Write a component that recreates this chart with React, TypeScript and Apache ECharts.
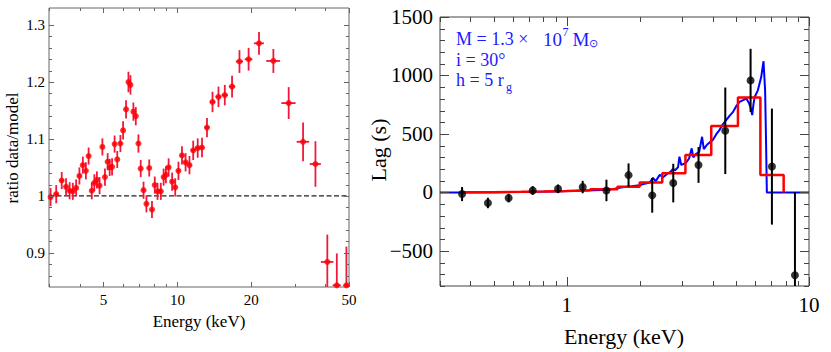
import React, { useEffect, useRef } from 'react';
import * as echarts from 'echarts';

// ---------- Left panel: ratio data/model ----------
const LEFT_E = [3.045, 3.21, 3.38, 3.52, 3.64, 3.75, 3.87, 3.99, 4.12, 4.24,
  4.35, 4.48, 4.59, 4.70, 4.82, 4.95, 5.07, 5.20, 5.30, 5.42,
  5.55, 5.69, 5.86, 6.01, 6.18, 6.32, 6.44, 6.62, 6.77, 6.94,
  7.09, 7.28, 7.48, 7.68, 7.88, 8.09, 8.30, 8.56, 8.79, 8.98,
  9.21, 9.52, 9.80, 10.1, 10.44, 10.8, 11.2, 11.6, 12.1, 12.6,
  13.2, 13.9, 14.7, 15.6, 16.7, 17.9, 19.5, 21.5, 24.6, 28.4,
  32.5, 36.5, 40.8, 44.6, 48.8];
const LEFT_RATIO = [0.998, 1.003, 1.027, 1.016, 1.009, 1.008, 1.014, 1.035, 1.054, 1.044,
  1.070, 1.009, 1.023, 1.028, 1.018, 1.086, 1.033, 1.060, 1.050, 1.051,
  1.091, 1.064, 1.092, 1.115, 1.152, 1.200, 1.195, 1.148, 1.140, 1.092,
  1.048, 1.010, 0.986, 1.049, 0.976, 1.019, 1.008, 1.008, 1.033, 1.037,
  1.050, 1.025, 1.015, 1.044, 1.071, 1.059, 1.054, 1.080, 1.084, 1.085,
  1.120, 1.165, 1.174, 1.177, 1.192, 1.236, 1.240, 1.268, 1.237, 1.163,
  1.095, 1.056, 0.884, 0.843, 0.843];
const LEFT_ERR = [0.016, 0.016, 0.015, 0.015, 0.015, 0.015, 0.015, 0.015, 0.015, 0.015,
  0.015, 0.015, 0.015, 0.015, 0.015, 0.015, 0.015, 0.015, 0.015, 0.015,
  0.015, 0.015, 0.015, 0.016, 0.016, 0.018, 0.017, 0.016, 0.016, 0.016,
  0.015, 0.015, 0.015, 0.015, 0.015, 0.015, 0.015, 0.015, 0.015, 0.015,
  0.016, 0.016, 0.016, 0.016, 0.016, 0.016, 0.016, 0.017, 0.017, 0.017,
  0.017, 0.018, 0.018, 0.018, 0.019, 0.020, 0.020, 0.020, 0.021, 0.028,
  0.034, 0.040, 0.048, 0.056, 0.068];
const LEFT_DE = [0.07, 0.07, 0.07, 0.06, 0.06, 0.06, 0.06, 0.06, 0.06, 0.06,
  0.06, 0.06, 0.06, 0.06, 0.06, 0.06, 0.06, 0.06, 0.05, 0.06,
  0.07, 0.07, 0.08, 0.08, 0.08, 0.07, 0.06, 0.08, 0.08, 0.08,
  0.08, 0.1, 0.1, 0.1, 0.1, 0.1, 0.1, 0.12, 0.12, 0.1,
  0.15, 0.15, 0.15, 0.17, 0.2, 0.2, 0.2, 0.25, 0.25, 0.25,
  0.3, 0.35, 0.4, 0.45, 0.5, 0.6, 0.7, 1.0, 1.6, 1.9,
  1.9, 1.9, 2.4, 1.7, 1.4];
const LEFT_X_MAJOR = [5, 10, 20, 50];
const LEFT_X_LABELS = ['5', '10', '20', '50'];
const LEFT_X_MINOR = [3, 4, 6, 7, 8, 9, 30, 40];
const LEFT_Y_MAJOR = [0.9, 1.0, 1.1, 1.2, 1.3];
const LEFT_Y_LABELS = ['0.9', '1', '1.1', '1.2', '1.3'];
const LEFT_Y_MINOR = [0.86, 0.88, 0.92, 0.94, 0.96, 0.98, 1.02, 1.04, 1.06, 1.08,
  1.12, 1.14, 1.16, 1.18, 1.22, 1.24, 1.26, 1.28];
const LEFT_REF = 1;

// ---------- Right panel: lag-energy ----------
const LAG_E = [0.37, 0.473, 0.576, 0.724, 0.921, 1.164, 1.459, 1.80, 2.254, 2.753, 3.50, 4.513, 5.74, 7.03, 8.75];
const LAG = [-14, -90, -48, 17, 31, 46, 17, 148, -25, 80, 235, 527, 958, 221, -708];
const LAG_ERR = [60, 45, 37, 37, 37, 53, 92, 100, 148, 165, 153, 370, 270, 496, 710];

const BLUE_E = [0.3, 0.37, 0.5, 0.7, 0.9, 1.1, 1.3, 1.5, 1.7, 1.85,
  2.0, 2.1, 2.2, 2.27, 2.33, 2.42, 2.5, 2.6, 2.68, 2.74,
  2.8, 2.88, 2.92, 2.97, 3.05, 3.11, 3.2, 3.28, 3.33, 3.42,
  3.52, 3.62, 3.68, 3.8, 3.9, 4.01, 4.15, 4.27, 4.4, 4.55,
  4.7, 4.86, 5.0, 5.17, 5.35, 5.52, 5.65, 5.75, 5.83, 5.9,
  5.97, 6.15, 6.35, 6.49, 6.59, 6.65, 6.70, 10];
const BLUE_LAG = [0, 0, 2, 5, 9, 14, 19, 24, 45, 52,
  62, 75, 85, 125, 95, 150, 130, 160, 175, 200,
  190, 215, 306, 235, 245, 255, 290, 377, 300, 330,
  345, 476, 370, 410, 430, 448, 500, 533, 580, 618,
  655, 689, 735, 774, 790, 802, 765, 720, 661, 755,
  816, 873, 986, 1122, 873, 420, 0, 0];

const RED_EDGES = [0.37, 0.5, 0.65, 0.8, 1.0, 1.25, 1.62, 2.0, 2.48, 3.09, 3.95, 5.09, 6.3, 7.86];
const RED_LAG = [2, 5, 8, 12, 18, 28, 48, 85, 165, 320, 567, 811, 150];

const RIGHT_X_MAJOR = [1, 10];
const RIGHT_X_LABELS = ['1', '10'];
const RIGHT_X_MINOR = [0.3, 0.4, 0.5, 0.6, 0.7, 0.8, 0.9, 2, 3, 4, 5, 6, 7, 8, 9];
const RIGHT_Y_MAJOR = [-500, 0, 500, 1000, 1500];
const RIGHT_Y_LABELS = ['\u2212500', '0', '500', '1000', '1500'];
const RIGHT_Y_MINOR = [-800, -700, -600, -400, -300, -200, -100, 100, 200, 300, 400,
  600, 700, 800, 900, 1100, 1200, 1300, 1400];

const FONT = '"Liberation Serif", "Times New Roman", Times, serif';

function xTicks(g: number, majors: number[], minors: number[], labels: string[],
  yMin: number, yMax: number, majLen: number, minLen: number, color: string,
  fontSize: number, labelOffset: number) {
  const ticks = [...majors.map((v) => ({ v, major: true })), ...minors.map((v) => ({ v, major: false }))];
  return {
    type: 'custom', xAxisIndex: g, yAxisIndex: g, clip: false, silent: true, z: 10,
    encode: { x: 0, y: 1 },
    data: ticks.map((t) => [t.v, yMin]),
    renderItem: (params: any, api: any) => {
      const t = ticks[params.dataIndex];
      const v = api.value(0);
      const b = api.coord([v, yMin]);
      const top = api.coord([v, yMax]);
      const L = t.major ? majLen : minLen;
      const x = Math.round(b[0]) + 0.5;
      const children: any[] = [
        { type: 'line', shape: { x1: x, y1: b[1], x2: x, y2: b[1] - L }, style: { stroke: color, lineWidth: 1 } },
        { type: 'line', shape: { x1: x, y1: top[1], x2: x, y2: top[1] + L }, style: { stroke: color, lineWidth: 1 } },
      ];
      if (t.major) {
        const idx = majors.indexOf(t.v);
        children.push({
          type: 'text',
          style: {
            text: labels[idx], x: b[0], y: b[1] + labelOffset, fill: '#000',
            font: `${fontSize}px ${FONT}`, align: 'center', verticalAlign: 'middle',
            textAlign: 'center', textVerticalAlign: 'middle',
          },
        });
      }
      return { type: 'group', children };
    },
  };
}

function yTicks(g: number, majors: number[], minors: number[], labels: string[],
  xMin: number, xMax: number, majLen: number, minLen: number, color: string,
  fontSize: number, labelOffset: number) {
  const ticks = [...majors.map((v) => ({ v, major: true })), ...minors.map((v) => ({ v, major: false }))];
  return {
    type: 'custom', xAxisIndex: g, yAxisIndex: g, clip: false, silent: true, z: 10,
    encode: { x: 0, y: 1 },
    data: ticks.map((t) => [xMin, t.v]),
    renderItem: (params: any, api: any) => {
      const t = ticks[params.dataIndex];
      const v = api.value(1);
      const l = api.coord([xMin, v]);
      const r = api.coord([xMax, v]);
      const L = t.major ? majLen : minLen;
      const y = Math.round(l[1]) + 0.5;
      const children: any[] = [
        { type: 'line', shape: { x1: l[0], y1: y, x2: l[0] + L, y2: y }, style: { stroke: color, lineWidth: 1 } },
        { type: 'line', shape: { x1: r[0], y1: y, x2: r[0] - L, y2: y }, style: { stroke: color, lineWidth: 1 } },
      ];
      if (t.major) {
        const idx = majors.indexOf(t.v);
        children.push({
          type: 'text',
          style: {
            text: labels[idx], x: l[0] - labelOffset, y: l[1], fill: '#000',
            font: `${fontSize}px ${FONT}`, align: 'right', verticalAlign: 'middle',
            textAlign: 'right', textVerticalAlign: 'middle',
          },
        });
      }
      return { type: 'group', children };
    },
  };
}

function txt(text: string, x: number, y: number, size: number, fill: string, align = 'left', rotation = 0) {
  return {
    type: 'text', x, y, rotation, silent: true,
    style: {
      text, fill, font: `${size}px ${FONT}`,
      align, verticalAlign: 'middle', textAlign: align, textVerticalAlign: 'middle',
    },
  };
}

export default function App() {
  const ref = useRef<HTMLDivElement>(null);
  useEffect(() => {
    if (!ref.current) return;
    const chart = echarts.init(ref.current, null, { renderer: 'svg' });

    const L_XMIN = 3, L_XMAX = 50, L_YMIN = 0.84, L_YMAX = 1.33;
    const R_XMIN = 0.3, R_XMAX = 10, R_YMIN = -800, R_YMAX = 1500;

    const redPts: number[][] = [];
    for (let i = 0; i < RED_LAG.length; i++) {
      redPts.push([RED_EDGES[i], RED_LAG[i]]);
      redPts.push([RED_EDGES[i + 1], RED_LAG[i]]);
    }
    redPts.push([RED_EDGES[RED_EDGES.length - 1], 0]);

    const hidden = {
      axisLine: { show: false }, axisTick: { show: false },
      axisLabel: { show: false }, splitLine: { show: false },
    };

    const blue = '#1a1aff';

    const option: any = {
      animation: false,
      backgroundColor: '#ffffff',
      grid: [
        { left: 49, top: 8, width: 300, height: 279, show: true, borderColor: '#666', borderWidth: 1, backgroundColor: 'transparent' },
        { left: 440, top: 17, width: 369, height: 269, show: true, borderColor: '#444', borderWidth: 1, backgroundColor: 'transparent' },
      ],
      xAxis: [
        { type: 'log', logBase: 10, gridIndex: 0, min: L_XMIN, max: L_XMAX, ...hidden },
        { type: 'log', logBase: 10, gridIndex: 1, min: R_XMIN, max: R_XMAX, ...hidden },
      ],
      yAxis: [
        { type: 'value', gridIndex: 0, min: L_YMIN, max: L_YMAX, ...hidden },
        { type: 'value', gridIndex: 1, min: R_YMIN, max: R_YMAX, ...hidden },
      ],
      series: [
        {
          type: 'line', xAxisIndex: 0, yAxisIndex: 0, z: 2, silent: true, symbol: 'none',
          data: [[L_XMIN, LEFT_REF], [L_XMAX, LEFT_REF]],
          lineStyle: { color: '#222', width: 1.2, type: [5, 2.5] },
        },
        {
          type: 'custom', xAxisIndex: 0, yAxisIndex: 0, z: 4, clip: true, silent: true,
          encode: { x: 0, y: 1 },
          data: LEFT_E.map((e, i) => [e, LEFT_RATIO[i], LEFT_DE[i], LEFT_ERR[i]]),
          renderItem: (params: any, api: any) => {
            const e = api.value(0), r = api.value(1), de = api.value(2), er = api.value(3);
            const a = api.coord([e, r - er]), b = api.coord([e, r + er]);
            const c = api.coord([e - de, r]), d = api.coord([e + de, r]);
            const st = { stroke: '#f0183c', lineWidth: 1.8 };
            return {
              type: 'group', children: [
                { type: 'line', shape: { x1: a[0], y1: a[1], x2: b[0], y2: b[1] }, style: st },
                { type: 'line', shape: { x1: c[0], y1: c[1], x2: d[0], y2: d[1] }, style: st },
              ],
            };
          },
        },
        {
          type: 'scatter', xAxisIndex: 0, yAxisIndex: 0, z: 5, silent: true, clip: false,
          symbol: 'circle', symbolSize: 6,
          itemStyle: { color: '#ff0000' },
          data: LEFT_E.map((e, i) => [e, LEFT_RATIO[i]]),
        },
        {
          type: 'line', xAxisIndex: 1, yAxisIndex: 1, z: 2, silent: true, symbol: 'none',
          data: BLUE_E.map((e, i) => [e, BLUE_LAG[i]]),
          lineStyle: { color: '#0000ff', width: 2 },
        },
        {
          type: 'line', xAxisIndex: 1, yAxisIndex: 1, z: 3, silent: true, symbol: 'none',
          data: redPts,
          lineStyle: { color: '#ff0000', width: 2.5 },
        },
        {
          type: 'custom', xAxisIndex: 1, yAxisIndex: 1, z: 4, clip: true, silent: true,
          encode: { x: 0, y: 1 },
          data: LAG_E.map((e, i) => [e, LAG[i], LAG_ERR[i]]),
          renderItem: (params: any, api: any) => {
            const e = api.value(0), r = api.value(1), er = api.value(2);
            const a = api.coord([e, r - er]), b = api.coord([e, r + er]);
            return {
              type: 'line', shape: { x1: a[0], y1: a[1], x2: b[0], y2: b[1] },
              style: { stroke: '#000', lineWidth: 2 },
            };
          },
        },
        {
          type: 'scatter', xAxisIndex: 1, yAxisIndex: 1, z: 5, silent: true, clip: false,
          symbol: 'circle', symbolSize: 8,
          itemStyle: { color: '#000' },
          data: LAG_E.map((e, i) => [e, LAG[i]]),
        },
        xTicks(0, LEFT_X_MAJOR, LEFT_X_MINOR, LEFT_X_LABELS, L_YMIN, L_YMAX, 5, 3, '#666', 15, 13),
        yTicks(0, LEFT_Y_MAJOR, LEFT_Y_MINOR, LEFT_Y_LABELS, L_XMIN, L_XMAX, 5, 3, '#666', 15, 4),
        xTicks(1, RIGHT_X_MAJOR, RIGHT_X_MINOR, RIGHT_X_LABELS, R_YMIN, R_YMAX, 9, 5, '#444', 21, 19),
        yTicks(1, RIGHT_Y_MAJOR, RIGHT_Y_MINOR, RIGHT_Y_LABELS, R_XMIN, R_XMAX, 9, 5, '#444', 21, 7),
      ],
      graphic: [
        txt('ratio data/model', 12, 148, 17, '#000', 'center', Math.PI / 2),
        txt('Energy (keV)', 199, 321, 17, '#000', 'center'),
        txt('Lag (s)', 378, 150, 22, '#000', 'center', Math.PI / 2),
        txt('Energy (keV)', 624, 336, 22, '#000', 'center'),
        txt('M = 1.3 \u00d7', 456, 39, 18, blue),
        txt('10', 543, 39, 19, blue),
        txt('7', 562.5, 31.5, 12, blue),
        txt('M', 572.5, 39, 19, blue),
        txt('\u2299', 589, 43, 11, blue),
        txt('i = 30\u00b0', 456, 59.5, 18, blue),
        txt('h = 5 r', 456, 80, 18, blue),
        txt('g', 506, 86.5, 12, blue),
      ],
    };
    chart.setOption(option);
    return () => chart.dispose();
  }, []);
  return (
    <div
      ref={ref}
      style={{ position: 'fixed', left: 0, top: 0, width: 831, height: 352, background: '#fff' }}
    />
  );
}
